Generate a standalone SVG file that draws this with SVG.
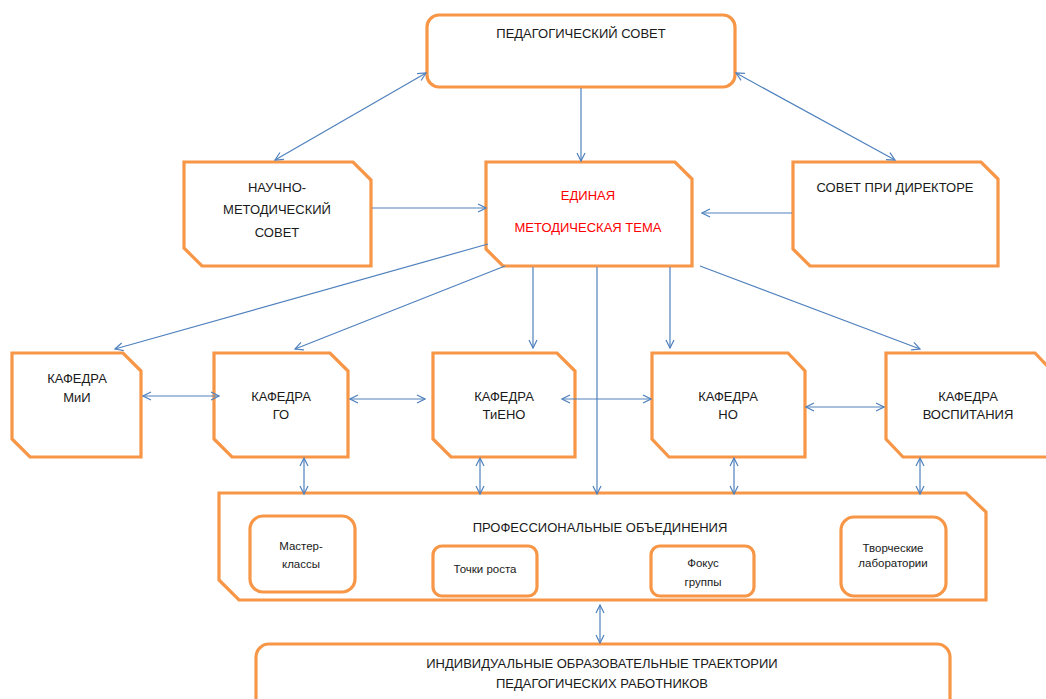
<svg xmlns="http://www.w3.org/2000/svg" width="1046" height="699" viewBox="0 0 1046 699">
<style>
.box{fill:#fff;stroke:#F79646;stroke-width:3.2;stroke-linejoin:miter}
.rbox{fill:#fff;stroke:#F79646;stroke-width:3.2}
.t{font-family:"Liberation Sans",Arial,sans-serif;font-size:13px;fill:#1a1a1a;text-anchor:middle}
.s{font-family:"Liberation Sans",Arial,sans-serif;font-size:11.5px;fill:#1a1a1a;text-anchor:middle}
.red{fill:#ff0000}
.c line{stroke:#4F81BD;stroke-width:1.2;fill:none}
.a{marker-end:url(#ah)}
.b{marker-start:url(#ah);marker-end:url(#ah)}
</style>
<defs>
<marker id="ah" viewBox="0 0 10 10" refX="9" refY="5" markerWidth="10" markerHeight="10" markerUnits="userSpaceOnUse" orient="auto-start-reverse">
<path d="M1,1 L9,5 L1,9" fill="none" stroke="#4F81BD" stroke-width="1.2"/>
</marker>
</defs>
<rect width="1046" height="699" fill="#fff"/>

<g id="n-ped">
<rect class="rbox" x="427" y="15" width="308" height="72" rx="12"/>
<text class="t" x="581" y="38">ПЕДАГОГИЧЕСКИЙ СОВЕТ</text>
</g>

<g id="n-nms">
<path class="box" d="M184,162 H353 L371,180 V266 H202 L184,248 Z"/>
<text class="t" x="277" y="192">НАУЧНО-</text>
<text class="t" x="277" y="214">МЕТОДИЧЕСКИЙ</text>
<text class="t" x="277" y="237">СОВЕТ</text>
</g>

<g id="n-emt">
<path class="box" d="M486,162 H675 L692,179 V266 H503 L486,249 Z"/>
<text class="t red" x="588" y="200">ЕДИНАЯ</text>
<text class="t red" x="588" y="232">МЕТОДИЧЕСКАЯ ТЕМА</text>
</g>

<g id="n-spd">
<path class="box" d="M793,162 H981 L998,179 V266 H810 L793,249 Z"/>
<text class="t" x="895" y="192">СОВЕТ ПРИ ДИРЕКТОРЕ</text>
</g>

<g id="n-mii">
<path class="box" d="M12,353 H123 L141,371 V457 H30 L12,439 Z"/>
<text class="t" x="77" y="383">КАФЕДРА</text>
<text class="t" x="77" y="402">МиИ</text>
</g>

<g id="n-go">
<path class="box" d="M214,353 H330 L348,371 V457 H232 L214,439 Z"/>
<text class="t" x="281" y="401">КАФЕДРА</text>
<text class="t" x="281" y="419">ГО</text>
</g>

<g id="n-tieno">
<path class="box" d="M433,353 H557 L575,371 V457 H451 L433,439 Z"/>
<text class="t" x="504" y="401">КАФЕДРА</text>
<text class="t" x="504" y="419">ТиЕНО</text>
</g>

<g id="n-no">
<path class="box" d="M652,353 H788 L805,371 V457 H669 L652,439 Z"/>
<text class="t" x="728" y="401">КАФЕДРА</text>
<text class="t" x="728" y="419">НО</text>
</g>

<g id="n-vosp">
<path class="box" d="M886,353 H1035 L1052,371 V457 H903 L886,439 Z"/>
<text class="t" x="968" y="401">КАФЕДРА</text>
<text class="t" x="968" y="419">ВОСПИТАНИЯ</text>
</g>

<g id="n-prof">
<path class="box" d="M219,493 H966 L986,512 V600 H239 L219,580 Z"/>
<text class="t" x="600" y="532">ПРОФЕССИОНАЛЬНЫЕ ОБЪЕДИНЕНИЯ</text>
</g>

<g id="n-master">
<rect class="rbox" x="250" y="516" width="105" height="76" rx="13"/>
<text class="s" x="301" y="550">Мастер-</text>
<text class="s" x="301" y="568">классы</text>
</g>

<g id="n-tochki">
<rect class="rbox" x="433" y="546" width="104" height="50" rx="9"/>
<text class="s" x="485" y="573">Точки роста</text>
</g>

<g id="n-fokus">
<rect class="rbox" x="651" y="546" width="103" height="50" rx="9"/>
<text class="s" x="703" y="567">Фокус</text>
<text class="s" x="703" y="586">группы</text>
</g>

<g id="n-tvorch">
<rect class="rbox" x="841" y="517" width="105" height="79" rx="13"/>
<text class="s" x="893" y="552">Творческие</text>
<text class="s" x="893" y="567">лаборатории</text>
</g>

<g id="n-ind">
<rect class="rbox" x="256" y="644" width="694" height="80" rx="13"/>
<text class="t" x="602" y="668">ИНДИВИДУАЛЬНЫЕ ОБРАЗОВАТЕЛЬНЫЕ ТРАЕКТОРИИ</text>
<text class="t" x="602" y="688">ПЕДАГОГИЧЕСКИХ РАБОТНИКОВ</text>
</g>

<g id="connectors" class="c">
<line class="a" x1="581" y1="88" x2="581" y2="161"/>
<line class="b" x1="426" y1="73" x2="275" y2="160"/>
<line class="b" x1="736" y1="73" x2="895" y2="160"/>
<line class="a" x1="372" y1="208" x2="486" y2="208"/>
<line class="a" x1="792" y1="213" x2="702" y2="213"/>
<line class="a" x1="488" y1="244" x2="115" y2="349"/>
<line class="a" x1="505" y1="266" x2="295" y2="349"/>
<line class="a" x1="533" y1="267" x2="533" y2="348"/>
<line class="a" x1="597" y1="267" x2="597" y2="494"/>
<line class="a" x1="670" y1="267" x2="670" y2="348"/>
<line class="a" x1="700" y1="266" x2="920" y2="349"/>
<line class="b" x1="143" y1="396" x2="219" y2="396"/>
<line class="b" x1="350" y1="399" x2="425" y2="399"/>
<line class="b" x1="562" y1="399" x2="651" y2="399"/>
<line class="b" x1="806" y1="407" x2="884" y2="407"/>
<line class="b" x1="304" y1="458" x2="304" y2="494"/>
<line class="b" x1="480" y1="458" x2="480" y2="494"/>
<line class="b" x1="734" y1="458" x2="734" y2="494"/>
<line class="b" x1="920" y1="458" x2="920" y2="494"/>
<line class="b" x1="600" y1="605" x2="600" y2="643"/>
</g>
</svg>
